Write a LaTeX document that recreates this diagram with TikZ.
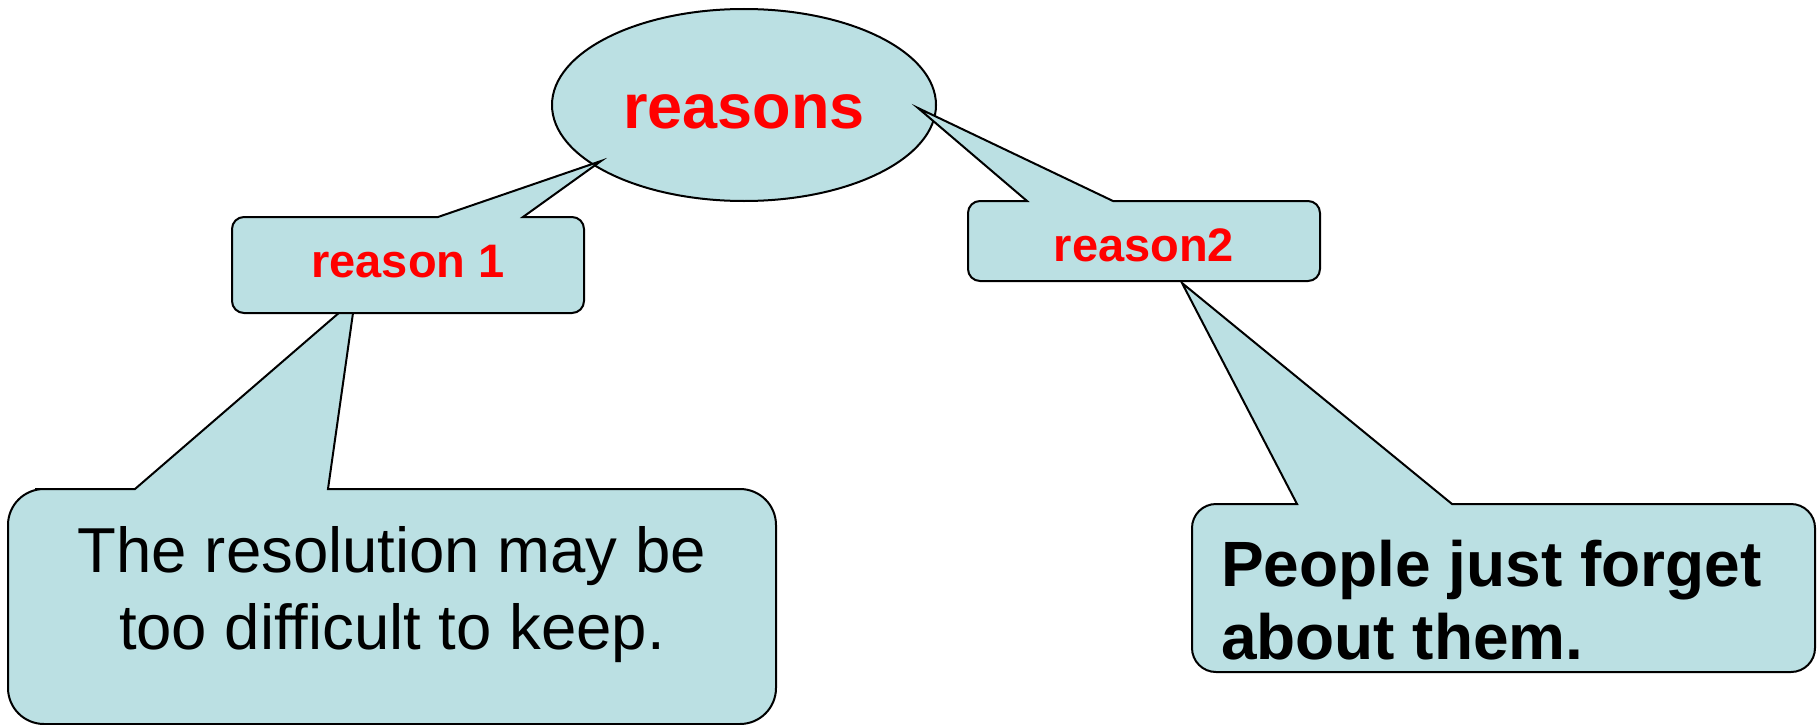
\documentclass[tikz,border=0pt]{standalone}
\usepackage{fontspec}
\setmainfont{Liberation Sans}
\usetikzlibrary{positioning}
\usetikzlibrary{backgrounds}
\definecolor{bubblefill}{RGB}{187,224,227}

\begin{document}
\begin{tikzpicture}[x=1pt,y=-1pt,
  every node/.style={inner sep=0pt,outer sep=0pt},
  bubble/.style={draw,line width=2pt,fill=bubblefill},
  headline/.style={text=red,font=\bfseries\fontsize{63}{74}\selectfont},
  reasonbox/.style={minimum width=352pt,text=red,font=\bfseries\fontsize{47}{56}\selectfont},
  bigtext/.style={font=\fontsize{63.5}{77}\selectfont},
  bigbold/.style={font=\bfseries\fontsize{64}{73}\selectfont}]
\useasboundingbox (0,0) rectangle (1820,725);

  \node[headline,text height=46pt,text depth=0pt] (reasons) at (744,105) {reasons};
  \node[reasonbox,minimum height=96pt,text height=34pt,text depth=10pt] (r1) at (408,265) {reason 1};
  \node[reasonbox,minimum height=80pt,text height=40pt,text depth=0pt] (r2) at (1144,241) {reason2};
  \node[minimum width=768pt,minimum height=235pt] (bigL) at (392,606.5) {};
  \node[minimum width=623pt,minimum height=168pt] (bigR) at (1503.5,588) {};
  \node[bigtext,align=center,below=37pt of bigL.north] (txtL) {The resolution may be\\too difficult to keep.};
  \node[bigbold,align=left,below right=36pt and 29pt of bigR.north west] (txtR) {People just forget\\about them.};

  \coordinate (r1tip) at (601,161);
  \coordinate (r2tip) at (918,108);
  \coordinate (Ltip) at (355,299);
  \coordinate (Rtip) at (1182,283);

  \begin{pgfonlayer}{background}
  \draw[bubble] (reasons.center) ellipse (192pt and 96pt);
  \draw[bubble] (bigL.west) [rounded corners=36pt] -- (bigL.north west) -- (71,0 |- bigL.north)
    [sharp corners] -- (135,0 |- bigL.north) -- (Ltip) -- (328,0 |- bigL.north) -- (552,0 |- bigL.north)
    [rounded corners=36pt] -- (bigL.north east) -- (bigL.south east) -- (bigL.south west) -- cycle;
  \draw[bubble] (bigR.west) [rounded corners=24pt] -- (bigR.north west) -- (1244,0 |- bigR.north)
    [sharp corners] -- (1297,0 |- bigR.north) -- (Rtip) -- (1452,0 |- bigR.north) -- (1633,0 |- bigR.north)
    [rounded corners=24pt] -- (bigR.north east) -- (bigR.south east) -- (bigR.south west) -- cycle;
  \draw[bubble] (r1.west) [rounded corners=12pt] -- (r1.north west) -- (335,0 |- r1.north)
    [sharp corners] -- (438,0 |- r1.north) -- (r1tip) -- (523,0 |- r1.north) -- (553,0 |- r1.north)
    [rounded corners=12pt] -- (r1.north east) -- (r1.south east) -- (r1.south west) -- cycle;
  \draw[bubble] (r2.west) [rounded corners=12pt] -- (r2.north west) -- (997,0 |- r2.north)
    [sharp corners] -- (1027,0 |- r2.north) -- (r2tip) -- (1113,0 |- r2.north) -- (1216,0 |- r2.north)
    [rounded corners=12pt] -- (r2.north east) -- (r2.south east) -- (r2.south west) -- cycle;
  \end{pgfonlayer}
\end{tikzpicture}
\end{document}
